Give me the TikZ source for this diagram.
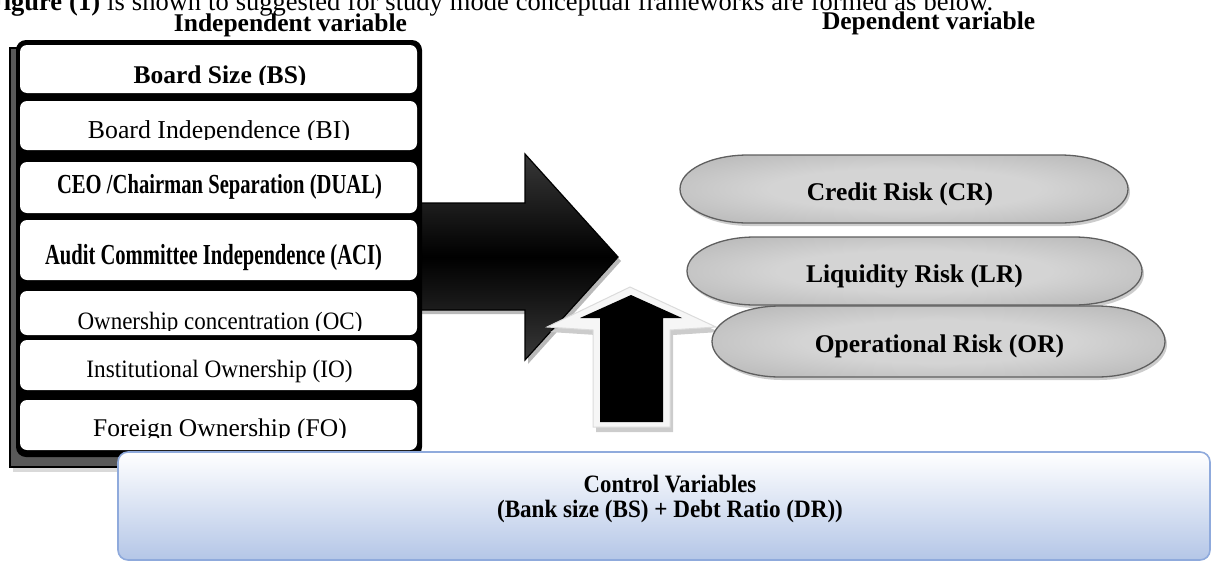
\documentclass[tikz,border=0pt]{standalone}
\usepackage{fontspec}
\usepackage{graphicx}
\setmainfont{Liberation Serif}
\definecolor{cvbot}{RGB}{180,198,231}
\definecolor{cvline}{RGB}{143,170,220}
\definecolor{pl}{RGB}{212,212,212}
\definecolor{pm}{RGB}{182,182,182}
\definecolor{pd}{RGB}{140,140,140}
\definecolor{pe}{RGB}{95,95,95}
\pgfdeclareradialshading{pillshade}{\pgfpoint{0bp}{0bp}}{color(0bp)=(pl); color(15bp)=(pl); color(35bp)=(pm); color(50bp)=(pd)}
\newcommand\pillpath[4]{(#1+68,#3) -- (#2-68,#3) arc[start angle=90,end angle=-90,x radius=68pt,y radius={(#4-#3)/2*1pt}] -- (#1+68,#4) arc[start angle=270,end angle=90,x radius=68pt,y radius={(#4-#3)/2*1pt}] -- cycle}
\begin{document}
\begin{tikzpicture}[x=1pt,y=-1pt,
  txt/.style={anchor=base, inner sep=0pt, outer sep=0pt},
  itembox/.style={fill=white, rounded corners=7pt, inner sep=0pt, minimum width=397pt},
  pill/.style={shading=pillshade, draw=pe, line width=1.3pt},
  pillshadow/.style={fill=gray!40},
  pilltxt/.style={txt, font=\bfseries\fontsize{25.5}{30}\selectfont},
  titletxt/.style={txt, font=\bfseries\fontsize{25.5}{30}\selectfont},
  bigarrow/.style={top color=black!78, bottom color=black!78, middle color=black, draw=black, line width=1.2pt},
  cvbox/.style={top color=white, bottom color=cvbot, draw=cvline, line width=1.6pt, rounded corners=10pt, inner sep=0pt}]
\useasboundingbox (0,0) rectangle (1212,562);

% caption (cut at the top)
\node[anchor=base west, inner sep=0pt, font=\fontsize{26.5}{30}\selectfont] (cap) at (-12.6,10)
  {\hbox to 1005.6pt{\textbf{Figure (1)} is shown to suggested for study mode conceptual frameworks are formed as below.}};

% titles
\node[titletxt] (indep) at (290.5,31.5) {Independent variable};
\node[titletxt, anchor=base west] (dep) at (822,29.5) {Dependent variable};

% big black arrow
\fill[gray!55, shift={(3,4)}] (400,203) -- (525,203) -- (525,154) -- (618,257) -- (525,360) -- (525,310) -- (400,310) -- cycle;
\shade[bigarrow] (400,203) -- (525,203) -- (525,154) -- (618,257) -- (525,360) -- (525,310) -- (400,310) -- cycle;

% left stack backing
\fill[gray!30] (13,53) rectangle (402,472);
\filldraw[fill=black!65, draw=black, line width=2.5pt] (10,48) rectangle (400,467);
\fill[black, rounded corners=10pt] (16,40) rectangle (422,457);

% item boxes
\node[itembox, minimum height=48pt] (b1) at (218.5,69) {};
\node[itembox, minimum height=49pt] (b2) at (218.5,125.5) {};
\node[itembox, minimum height=51pt] (b3) at (218.5,187.5) {};
\node[itembox, minimum height=60pt] (b4) at (218.5,250) {};
\node[itembox, minimum height=44pt] (b5) at (218.5,313) {};
\node[itembox, minimum height=50pt] (b6) at (218.5,365) {};
\node[itembox, minimum height=50pt] (b7) at (218.5,425) {};

\begin{scope}
  \clip (20,45) rectangle (417,84.5);
  \node[txt, font=\bfseries\fontsize{25.5}{30}\selectfont] (t1) at (220,83) {Board Size (BS)};
\end{scope}
\begin{scope}
  \clip (20,101) rectangle (417,139.5);
  \node[txt, font=\fontsize{25.8}{30}\selectfont] (t2) at (219,138) {Board Independence (BI)};
\end{scope}
\node[txt, font=\bfseries\fontsize{27.5}{30}\selectfont] (t3) at (219.5,193.5) {\scalebox{0.75}[1]{CEO /Chairman Separation (DUAL)}};
\node[txt, font=\bfseries\fontsize{29}{32}\selectfont] (t4) at (213.5,264) {\scalebox{0.71}[1]{Audit Committee Independence (ACI)}};
\begin{scope}
  \clip (20,291) rectangle (417,330.5);
  \node[txt, font=\fontsize{25}{30}\selectfont] (t5) at (220,329) {\scalebox{0.92}[1]{Ownership concentration (OC)}};
\end{scope}
\node[txt, font=\fontsize{25}{30}\selectfont] (t6) at (219.5,377.5) {\scalebox{0.93}[1]{Institutional Ownership (IO)}};
\begin{scope}
  \clip (20,400) rectangle (417,437.5);
  \node[txt, font=\fontsize{25.5}{30}\selectfont] (t7) at (220,436.5) {Foreign Ownership (FO)};
\end{scope}

% up arrow (control -> dependent)
\fill[gray!40, shift={(3,5)}] (630,287) -- (716,327) -- (670,330) -- (670,427) -- (593,427) -- (593,330) -- (547,327) -- cycle;
\filldraw[fill=gray!7, draw=gray!28, line width=1pt] (630,287) -- (716,327) -- (670,330) -- (670,427) -- (593,427) -- (593,330) -- (547,327) -- cycle;
\fill[black] (631,295) -- (682,318) -- (663,318) -- (663,422) -- (600,422) -- (600,318) -- (580,318) -- cycle;

% dependent variables
\fill[pillshadow, shift={(2,3)}] \pillpath{680}{1128}{155}{223};
\shade[pill] \pillpath{680}{1128}{155}{223};
\node[pilltxt] (cr) at (900,200) {Credit Risk (CR)};
\fill[pillshadow, shift={(2,3)}] \pillpath{687}{1142}{237}{305};
\shade[pill] \pillpath{687}{1142}{237}{305};
\node[pilltxt] (lr) at (914.5,282) {Liquidity Risk (LR)};
\fill[pillshadow, shift={(2,3)}] \pillpath{712}{1165}{306}{377};
\shade[pill] \pillpath{712}{1165}{306}{377};
\node[pilltxt] (or) at (939.5,352) {Operational Risk (OR)};

% control variables
\node[cvbox, minimum width=1092pt, minimum height=108pt] (cv) at (664,506) {};
\node[txt, font=\bfseries\fontsize{25}{30}\selectfont] (cv1) at (670,492) {\scalebox{0.91}[1]{Control Variables}};
\node[txt, font=\bfseries\fontsize{25}{30}\selectfont] (cv2) at (670,517) {\scalebox{0.925}[1]{(Bank size (BS) + Debt Ratio (DR))}};
\end{tikzpicture}
\end{document}
